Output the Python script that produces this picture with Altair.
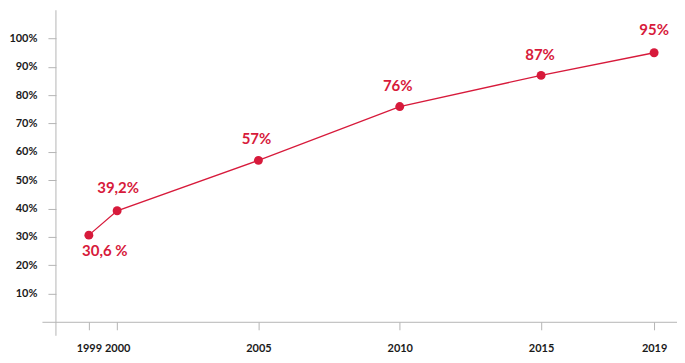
import altair as alt
import pandas as pd

years = [1999, 2000, 2005, 2010, 2015, 2019]
values = [30.6, 39.2, 57, 76, 87, 95]
labels = ["30,6 %", "39,2%", "57%", "76%", "87%", "95%"]
label_dy = [16, -23, -21, -21, -20, -23]
label_dx = [16, 1, -2, -2, -1, 0]
y_ticks = [10, 20, 30, 40, 50, 60, 70, 80, 90, 100]

df = pd.DataFrame({"year": years, "value": values, "label": labels})

RED = "#d71a3b"
GREY = "#b5b5b5"
W, H = 636, 312

x = alt.X("year:Q", scale=alt.Scale(domain=[1997.34, 2019.81], nice=False, zero=False),
          axis=alt.Axis(values=years, format="d", title=None, grid=False,
                        domainColor=GREY, tickColor=GREY, tickSize=8, domainWidth=1,
                        labelPadding=13, labelFont="Lato", labelFontWeight="bold",
                        labelFontSize=11, labelColor="#1a1a1a", labelOverlap=False))
y = alt.Y("value:Q", scale=alt.Scale(domain=[0, 110], nice=False),
          axis=alt.Axis(values=y_ticks, format="d", labelExpr="datum.value + '%'",
                        title=None, grid=False, domain=False, offset=-14,
                        tickColor=GREY, tickSize=8, labelPadding=11,
                        labelFont="Lato", labelFontWeight="bold", labelFontSize=11,
                        labelColor="#1a1a1a", labelOverlap=False))

base = alt.Chart(df).encode(x=x, y=y)
line = base.mark_line(color=RED, strokeWidth=1.3)
pts = base.mark_circle(color=RED, opacity=1, size=80)

text_layers = []
for i in range(len(years)):
    t = base.transform_filter(alt.datum.year == years[i]).mark_text(
        color=RED, font="Lato", fontWeight="bold", fontSize=15,
        dy=label_dy[i], dx=label_dx[i], baseline="middle", align="center"
    ).encode(text="label:N")
    text_layers.append(t)

yaxis_line = alt.Chart(pd.DataFrame({"a": [0]})).mark_rule(color=GREY, strokeWidth=1).encode(
    x=alt.value(14), x2=alt.value(14), y=alt.value(0), y2=alt.value(H + 14))

chart = alt.layer(line, pts, *text_layers, yaxis_line).properties(
    width=W, height=H,
    background="white",
    autosize=alt.AutoSizeParams(type="none"),
    padding={"left": 34, "top": 2, "right": 0, "bottom": 38},
).configure_view(strokeWidth=0, stroke="transparent")

chart.save("out.html", embed_options={"renderer": "svg", "actions": False})
